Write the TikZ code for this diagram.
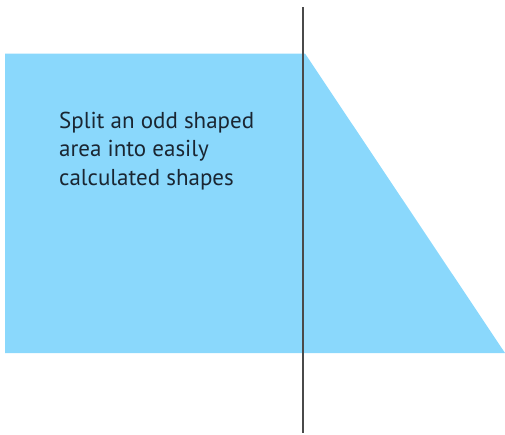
\documentclass[tikz,border=0pt]{standalone}
\usepackage{fontspec}
\setmainfont{PT Sans}
\definecolor{shapeblue}{HTML}{8AD8FC}
\definecolor{linegray}{HTML}{4A4A4A}
\definecolor{textdark}{HTML}{1A2632}
\tikzset{
  area/.style={fill=shapeblue, draw=none},
  splitline/.style={draw=linegray, line width=2.2pt},
  label/.style={anchor=base west, align=left, text=textdark, inner sep=0pt,
    font=\fontsize{23}{28.3}\selectfont}
}
\begin{document}
\begin{tikzpicture}[x=1pt,y=-1pt]
\useasboundingbox (0,0) rectangle (505,434);
\path[area] (5,53.5) -- (305,53.5) -- (505,353) -- (5,353) -- cycle;
\coordinate (top) at (302.7,7);
\coordinate (bottom) at (302.7,433);
\draw[splitline] (top) -- (bottom);
\node[label] (txt) at (59,185) {Split an odd shaped\\area into easily\\calculated shapes};
\end{tikzpicture}
\end{document}
